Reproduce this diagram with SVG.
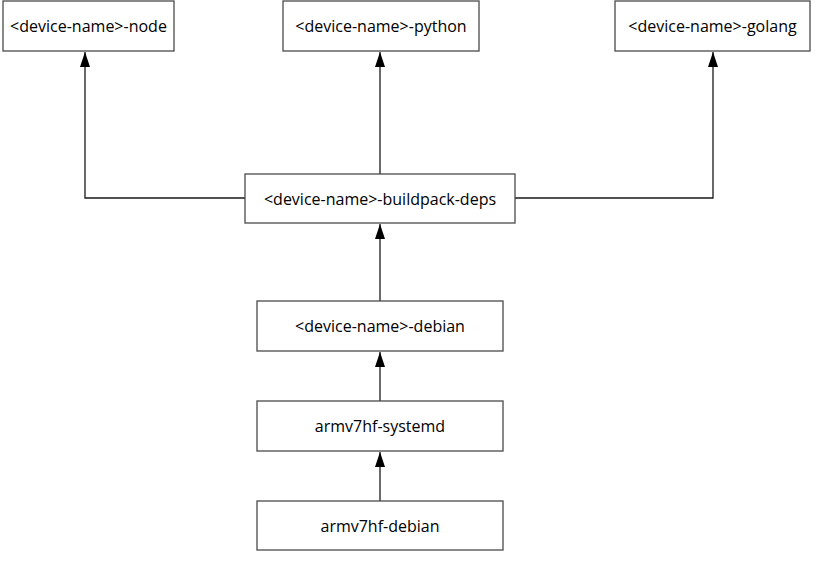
<svg xmlns="http://www.w3.org/2000/svg" width="833" height="588" viewBox="0 0 833 588">
  <style>
    .box { fill: #ffffff; stroke: #4a4a4a; stroke-width: 1.3; }
    .lbl { font-family: "Open Sans", "DejaVu Sans", sans-serif; font-size: 16px; fill: #000000; text-anchor: middle; dominant-baseline: central; }
    .edge { fill: none; stroke: #1a1a1a; stroke-width: 1.3; marker-end: url(#arrow); }
  </style>
  <defs>
    <marker id="arrow" viewBox="0 0 15 10" refX="15" refY="5" markerWidth="15" markerHeight="10" markerUnits="userSpaceOnUse" orient="auto">
      <path d="M0,0 L15,5 L0,10 Z" fill="#000000"/>
    </marker>
  </defs>
  <rect width="833" height="588" fill="#ffffff"/>

  <g id="connectors">
    <path class="edge" d="M380,174 V52"/>
    <path class="edge" d="M245,198 H85 V52"/>
    <path class="edge" d="M515,198 H713 V52"/>
    <path class="edge" d="M380,301 V224"/>
    <path class="edge" d="M380,401 V352"/>
    <path class="edge" d="M380,501 V452"/>
  </g>

  <g id="node-node">
    <rect class="box" x="3" y="1" width="171" height="50"/>
    <text class="lbl" x="88.5" y="26">&lt;device-name&gt;-node</text>
  </g>
  <g id="node-python">
    <rect class="box" x="283" y="1" width="196" height="50"/>
    <text class="lbl" x="381" y="26">&lt;device-name&gt;-python</text>
  </g>
  <g id="node-golang">
    <rect class="box" x="615" y="1" width="195" height="50"/>
    <text class="lbl" x="712.5" y="26">&lt;device-name&gt;-golang</text>
  </g>
  <g id="node-buildpack-deps">
    <rect class="box" x="245" y="174" width="270" height="49"/>
    <text class="lbl" x="380" y="198.5">&lt;device-name&gt;-buildpack-deps</text>
  </g>
  <g id="node-debian">
    <rect class="box" x="257" y="301" width="246" height="50"/>
    <text class="lbl" x="380" y="326">&lt;device-name&gt;-debian</text>
  </g>
  <g id="node-systemd">
    <rect class="box" x="257" y="401" width="246" height="50"/>
    <text class="lbl" x="380" y="426">armv7hf-systemd</text>
  </g>
  <g id="node-armv7hf-debian">
    <rect class="box" x="257" y="501" width="246" height="49"/>
    <text class="lbl" x="380" y="525.5">armv7hf-debian</text>
  </g>
</svg>
